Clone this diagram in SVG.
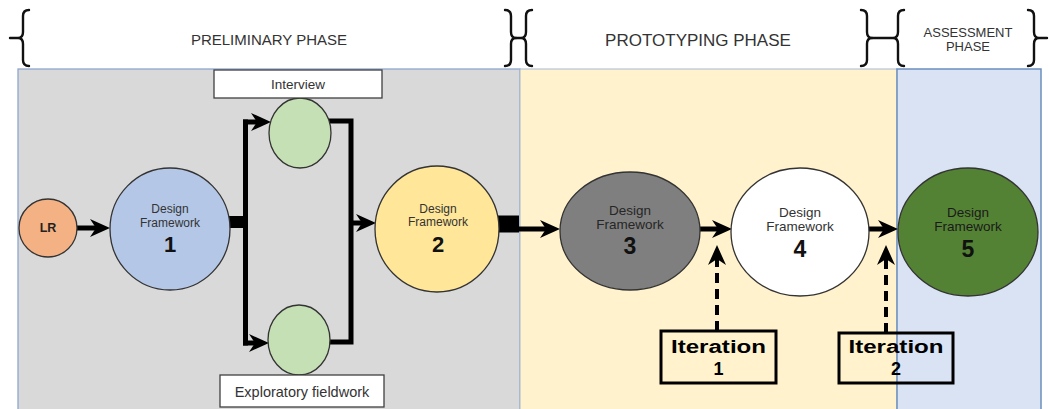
<svg xmlns="http://www.w3.org/2000/svg" width="1049" height="409" viewBox="0 0 1049 409">
  <defs>
    <marker id="arrow" markerUnits="userSpaceOnUse" markerWidth="20" markerHeight="18" refX="10" refY="9" orient="auto">
      <path d="M0,0 L20,9 L0,18 L6,9 Z" fill="#000"/>
    </marker>
    <style>
      .title { font-family: "Liberation Sans", Arial, sans-serif; fill: #333; text-anchor: middle; }
      .brace { fill: none; stroke: #111; stroke-width: 2.4; stroke-linecap: round; stroke-linejoin: round; }
      .node { stroke: #333; stroke-width: 1.3; }
      .lbl { font-family: "Liberation Sans", Arial, sans-serif; fill: #333; text-anchor: middle; }
      .num { font-family: "Liberation Sans", Arial, sans-serif; font-weight: bold; fill: #111; text-anchor: middle; }
      .box { fill: #fff; stroke: #404040; stroke-width: 1.3; }
      .conn { fill: none; stroke: #000; stroke-width: 5; }
      .dash { fill: none; stroke: #000; stroke-width: 4; stroke-dasharray: 10 6; }
      .iter { fill: none; stroke: #000; stroke-width: 3; }
      .itxt { font-family: "Liberation Sans", Arial, sans-serif; font-weight: bold; font-size: 18px; fill: #000; text-anchor: middle; }
    </style>
  </defs>

  <rect width="1049" height="409" fill="#fff"/>

  <g id="panels">
    <rect x="18" y="69" width="502" height="346" fill="#D9D9D9" stroke="#8EA6CF" stroke-width="1.3"/>
    <rect x="520" y="69" width="377" height="346" fill="#FFF2CC" stroke="#A9B8D3" stroke-width="1"/>
    <rect x="897" y="69" width="144" height="346" fill="#DAE3F3" stroke="#6C8EBF" stroke-width="1.5"/>
  </g>

  <g id="braces">
    <path class="brace" d="M29,10 Q23,10 23,16 L23,32 Q23,38 18,38 Q23,38 23,44 L23,60 Q23,66 29,66 M10,38 H18"/>
    <path class="brace" d="M505,10 Q511,10 511,16 L511,32 Q511,38 516,38 Q511,38 511,44 L511,60 Q511,66 505,66"/>
    <path class="brace" d="M532,10 Q526,10 526,16 L526,32 Q526,38 521,38 Q526,38 526,44 L526,60 Q526,66 532,66 M516,38 H521"/>
    <path class="brace" d="M861,10 Q867,10 867,16 L867,32 Q867,38 872,38 Q867,38 867,44 L867,60 Q867,66 861,66"/>
    <path class="brace" d="M904,10 Q898,10 898,16 L898,32 Q898,38 893,38 Q898,38 898,44 L898,60 Q898,66 904,66 M872,38 H893"/>
    <path class="brace" d="M1028,10 Q1034,10 1034,16 L1034,32 Q1034,38 1039,38 Q1034,38 1034,44 L1034,60 Q1034,66 1028,66 M1039,38 H1047"/>
  </g>

  <g id="phase-labels">
    <text class="title" x="269" y="45" font-size="15">PRELIMINARY PHASE</text>
    <text class="title" x="698" y="46" font-size="17">PROTOTYPING PHASE</text>
    <text class="title" x="968" y="37" font-size="13">ASSESSMENT</text>
    <text class="title" x="968" y="51" font-size="13">PHASE</text>
  </g>

  <g id="connectors">
    <line class="conn" x1="77" y1="228" x2="100" y2="228" marker-end="url(#arrow)"/>
    <line x1="226" y1="222" x2="247" y2="222" stroke="#000" stroke-width="12"/>
    <line class="conn" x1="245.5" y1="119.5" x2="245.5" y2="345.5"/>
    <line class="conn" x1="243" y1="122" x2="261" y2="122" marker-end="url(#arrow)"/>
    <line class="conn" x1="243" y1="343" x2="259" y2="343" marker-end="url(#arrow)"/>
    <path class="conn" d="M328,121 H351 V342 H328"/>
    <line class="conn" x1="349" y1="223" x2="366" y2="223" marker-end="url(#arrow)"/>
    <line x1="498" y1="224" x2="519" y2="224" stroke="#000" stroke-width="17"/>
    <line class="conn" x1="517" y1="229" x2="550" y2="229" marker-end="url(#arrow)"/>
    <line class="conn" x1="700" y1="229" x2="722" y2="229" marker-end="url(#arrow)"/>
    <line class="conn" x1="868" y1="229" x2="888" y2="229" marker-end="url(#arrow)"/>
    <line class="dash" x1="717" y1="331" x2="717" y2="255" marker-end="url(#arrow)"/>
    <line class="dash" x1="886" y1="333" x2="886" y2="255" marker-end="url(#arrow)"/>
  </g>

  <g id="node-lr">
    <circle class="node" cx="48" cy="228" r="29" fill="#F4B183"/>
    <text x="48" y="232" font-family="Liberation Sans, Arial, sans-serif" font-weight="bold" font-size="12.5" fill="#222" text-anchor="middle">LR</text>
  </g>

  <g id="node-df1">
    <ellipse class="node" cx="170" cy="229" rx="60" ry="61" fill="#B4C7E7"/>
    <text class="lbl" x="170" y="213" font-size="12">Design</text>
    <text class="lbl" x="170" y="227" font-size="12">Framework</text>
    <text class="num" x="170" y="252" font-size="22">1</text>
  </g>

  <g id="node-interview">
    <ellipse class="node" cx="300" cy="133" rx="31" ry="35" fill="#C5E0B4"/>
    <rect class="box" x="214" y="70" width="168" height="28"/>
    <text class="lbl" x="298" y="89" font-size="13.5">Interview</text>
  </g>

  <g id="node-fieldwork">
    <ellipse class="node" cx="299" cy="340" rx="31" ry="35" fill="#C5E0B4"/>
    <rect class="box" x="220" y="375" width="164" height="32"/>
    <text class="lbl" x="302" y="397" font-size="14.5">Exploratory fieldwork</text>
  </g>

  <g id="node-df2">
    <ellipse class="node" cx="437" cy="229" rx="62" ry="63" fill="#FFE699"/>
    <text class="lbl" x="438" y="213" font-size="12">Design</text>
    <text class="lbl" x="438" y="226" font-size="12">Framework</text>
    <text class="num" x="438" y="252" font-size="22">2</text>
  </g>

  <g id="node-df3">
    <ellipse class="node" cx="630" cy="231" rx="70" ry="59" fill="#7F7F7F"/>
    <text class="lbl" x="630" y="215" font-size="13.5" fill="#262626" style="fill:#262626">Design</text>
    <text class="lbl" x="630" y="229" font-size="13.5" style="fill:#262626">Framework</text>
    <text class="num" x="630" y="254" font-size="23">3</text>
  </g>

  <g id="node-df4">
    <ellipse class="node" cx="800" cy="232" rx="69" ry="64" fill="#FFFFFF"/>
    <text class="lbl" x="800" y="217" font-size="13.5">Design</text>
    <text class="lbl" x="800" y="231" font-size="13.5">Framework</text>
    <text class="num" x="800" y="257" font-size="23">4</text>
  </g>

  <g id="node-df5">
    <ellipse class="node" cx="968" cy="232" rx="70" ry="64" fill="#548235"/>
    <text class="lbl" x="968" y="217" font-size="13.5" style="fill:#1a1a1a">Design</text>
    <text class="lbl" x="968" y="231" font-size="13.5" style="fill:#1a1a1a">Framework</text>
    <text class="num" x="968" y="257" font-size="23">5</text>
  </g>

  <g id="node-iteration1">
    <rect class="iter" x="661" y="331" width="115" height="52"/>
    <text class="itxt" x="718.5" y="353" textLength="95" lengthAdjust="spacingAndGlyphs">Iteration</text>
    <text class="itxt" x="718.5" y="375">1</text>
  </g>

  <g id="node-iteration2">
    <rect class="iter" x="839" y="333" width="114" height="50"/>
    <text class="itxt" x="896" y="353" textLength="95" lengthAdjust="spacingAndGlyphs">Iteration</text>
    <text class="itxt" x="896" y="375">2</text>
  </g>
</svg>
